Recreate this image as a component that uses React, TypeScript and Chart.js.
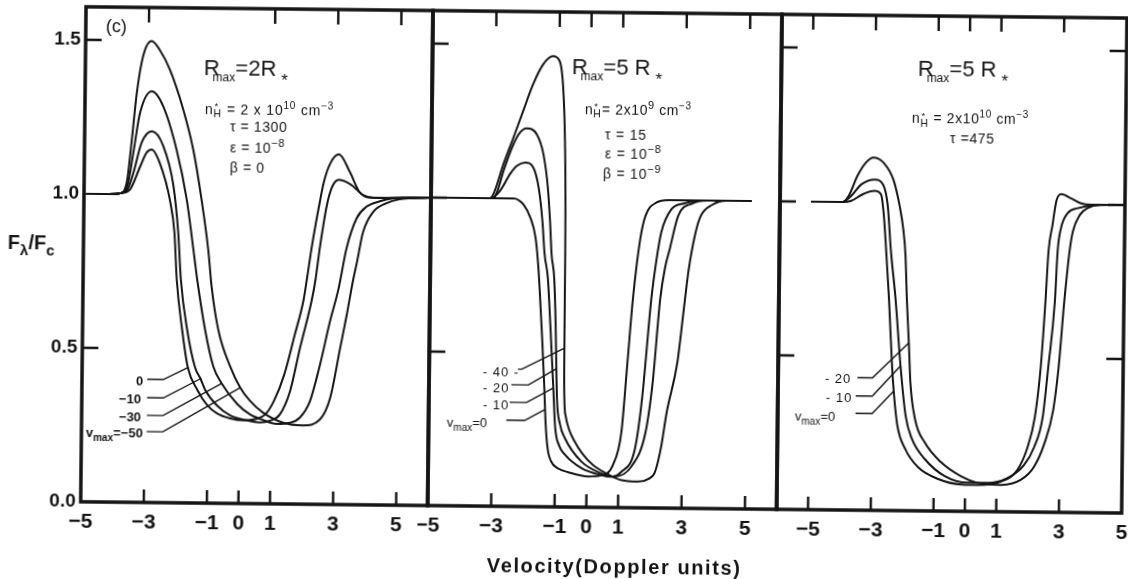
import React, { useEffect, useRef } from "react";
import { Chart, registerables } from "chart.js";

Chart.register(...registerables);

type Pt = [number, number];

// ---------------- data (x = velocity in Doppler units, y = F_lambda / F_c) ----------------
// Panel 1 : Rmax = 2 R*
const P1_VMAX_0: Pt[] = [[-5, 1], [-4.2, 1], [-3.85, 1.003], [-3.54, 1.016], [-3.23, 1.09], [-3.03, 1.136], [-2.87, 1.146], [-2.6, 1.1], [-2.27, 0.98], [-2.12, 0.877], [-2.03, 0.724], [-1.84, 0.56], [-1.65, 0.44], [-1.34, 0.367], [-1.02, 0.318], [-0.71, 0.292], [-0.29, 0.276], [0.13, 0.27], [0.56, 0.276], [0.82, 0.29], [1.09, 0.334], [1.41, 0.42], [1.73, 0.55], [1.99, 0.66], [2.08, 0.72], [2.23, 0.83], [2.44, 0.96], [2.6, 1.047], [2.81, 1.11], [3.07, 1.137], [3.42, 1.08], [3.73, 1.016], [4.05, 0.998], [4.6, 0.997], [6, 1.0]];
const P1_VMAX_M10: Pt[] = [[-5, 1], [-4.2, 1], [-3.85, 1.003], [-3.6, 1.02], [-3.44, 1.07], [-3.19, 1.168], [-2.87, 1.205], [-2.5, 1.157], [-2.17, 1.03], [-2.0, 0.877], [-1.9, 0.724], [-1.68, 0.56], [-1.42, 0.44], [-1.25, 0.405], [-1.09, 0.367], [-0.72, 0.318], [-0.3, 0.286], [0.23, 0.27], [0.65, 0.264], [0.97, 0.27], [1.28, 0.29], [1.6, 0.367], [1.9, 0.507], [2.25, 0.66], [2.36, 0.724], [2.49, 0.83], [2.7, 0.97], [2.86, 1.03], [3.07, 1.054], [3.44, 1.04], [3.86, 1.005], [4.18, 0.997], [6, 1.0]];
const P1_VMAX_M30: Pt[] = [[-5, 1], [-4.2, 1], [-3.85, 1.003], [-3.62, 1.03], [-3.45, 1.135], [-3.25, 1.265], [-2.88, 1.335], [-2.52, 1.287], [-2.08, 1.146], [-1.74, 0.984], [-1.51, 0.82], [-1.38, 0.724], [-1.11, 0.56], [-0.84, 0.443], [-0.57, 0.389], [-0.08, 0.324], [0.33, 0.29], [0.75, 0.272], [1.18, 0.26], [1.6, 0.264], [1.91, 0.28], [2.23, 0.334], [2.54, 0.454], [2.84, 0.594], [3.1, 0.7], [3.34, 0.832], [3.65, 0.93], [3.96, 0.968], [4.38, 0.986], [4.8, 0.996], [6, 1.0]];
const P1_VMAX_M50: Pt[] = [[-5, 1], [-4.2, 1], [-3.85, 1.003], [-3.65, 1.038], [-3.5, 1.18], [-3.36, 1.33], [-3.17, 1.45], [-2.91, 1.498], [-2.65, 1.47], [-2.32, 1.406], [-1.88, 1.276], [-1.55, 1.146], [-1.27, 0.984], [-1.04, 0.82], [-0.92, 0.7], [-0.69, 0.56], [-0.3, 0.443], [0.02, 0.376], [0.33, 0.334], [0.75, 0.296], [1.39, 0.264], [2.02, 0.256], [2.55, 0.275], [2.87, 0.345], [3.17, 0.507], [3.37, 0.616], [3.55, 0.724], [3.68, 0.79], [3.86, 0.886], [4.17, 0.951], [4.59, 0.98], [5.0, 0.993], [6, 1.0]];

// Panel 2 : Rmax = 5 R*, tau = 15
const P2_VMAX_0: Pt[] = [[-5, 1], [-2.4, 1.0], [-2.08, 0.98], [-1.86, 0.938], [-1.69, 0.873], [-1.6, 0.787], [-1.54, 0.7], [-1.45, 0.55], [-1.37, 0.4], [-1.31, 0.27], [-1.24, 0.19], [-1.12, 0.147], [-0.9, 0.125], [-0.58, 0.113], [0.05, 0.1], [0.5, 0.105], [0.82, 0.137], [1.08, 0.245], [1.24, 0.46], [1.4, 0.68], [1.61, 0.873], [1.77, 0.949], [2.08, 0.99], [2.5, 1.0], [5.1, 1.0]];
const P2_VMAX_M10: Pt[] = [[-5, 1], [-3.1, 1.0], [-2.82, 1.025], [-2.51, 1.08], [-2.3, 1.106], [-2.04, 1.117], [-1.78, 1.1], [-1.61, 1.036], [-1.48, 0.928], [-1.4, 0.82], [-1.29, 0.744], [-1.2, 0.6], [-1.08, 0.386], [-1.01, 0.26], [-0.88, 0.2], [-0.69, 0.17], [-0.17, 0.127], [0.46, 0.105], [0.78, 0.1], [1.09, 0.116], [1.51, 0.19], [1.72, 0.354], [1.98, 0.68], [2.12, 0.8], [2.27, 0.895], [2.58, 0.97], [3.0, 0.99], [3.5, 1.0], [5.1, 1.0]];
const P2_VMAX_M20: Pt[] = [[-5, 1], [-3.05, 1.0], [-2.92, 1.02], [-2.72, 1.09], [-2.42, 1.176], [-2.22, 1.214], [-2.01, 1.228], [-1.69, 1.209], [-1.47, 1.144], [-1.32, 1.036], [-1.24, 0.928], [-1.18, 0.82], [-1.09, 0.744], [-1.03, 0.6], [-0.99, 0.449], [-0.96, 0.35], [-0.86, 0.27], [-0.7, 0.224], [-0.17, 0.148], [0.47, 0.11], [0.84, 0.1], [1.43, 0.137], [1.84, 0.245], [2.05, 0.408], [2.26, 0.68], [2.4, 0.78], [2.54, 0.84], [2.8, 0.95], [3.24, 0.99], [3.7, 1.0], [5.1, 1.0]];
const P2_VMAX_M40: Pt[] = [[-5, 1], [-3.15, 1.0], [-3.03, 1.014], [-2.73, 1.11], [-2.42, 1.198], [-2.12, 1.285], [-1.82, 1.371], [-1.51, 1.436], [-1.2, 1.463], [-0.99, 1.447], [-0.87, 1.36], [-0.8, 1.2], [-0.76, 0.98], [-0.75, 0.82], [-0.745, 0.52], [-0.73, 0.36], [-0.68, 0.295], [-0.58, 0.255], [-0.4, 0.215], [-0.15, 0.175], [0.2, 0.137], [0.63, 0.11], [1.1, 0.089], [1.62, 0.085], [1.94, 0.094], [2.15, 0.116], [2.34, 0.2], [2.5, 0.31], [2.82, 0.473], [3.0, 0.64], [3.14, 0.77], [3.35, 0.895], [3.51, 0.95], [3.88, 0.987], [4.3, 1.0], [5.1, 1.0]];

// Panel 3 : Rmax = 5 R*, tau = 475
const P3_VMAX_0: Pt[] = [[-5, 1.0], [-4.0, 1.0], [-3.73, 1.004], [-3.36, 1.026], [-2.98, 1.037], [-2.78, 1.026], [-2.68, 0.955], [-2.6, 0.848], [-2.49, 0.686], [-2.37, 0.47], [-2.3, 0.379], [-2.18, 0.276], [-1.92, 0.2], [-1.5, 0.141], [-0.86, 0.104], [-0.12, 0.087], [0.4, 0.086], [1.14, 0.098], [1.66, 0.136], [1.98, 0.211], [2.2, 0.308], [2.37, 0.47], [2.5, 0.686], [2.58, 0.848], [2.7, 0.934], [2.81, 1.01], [2.97, 1.033], [3.28, 1.02], [3.6, 1.004], [3.92, 1.0], [5, 1.0]];
const P3_VMAX_M10: Pt[] = [[-5, 1], [-4.0, 1.0], [-3.73, 1.02], [-3.41, 1.058], [-2.98, 1.074], [-2.72, 1.058], [-2.56, 0.988], [-2.45, 0.848], [-2.28, 0.686], [-2.1, 0.47], [-1.92, 0.308], [-1.71, 0.233], [-1.29, 0.168], [-0.66, 0.114], [0.08, 0.093], [0.71, 0.093], [1.34, 0.109], [1.87, 0.152], [2.19, 0.211], [2.45, 0.308], [2.61, 0.47], [2.8, 0.686], [2.87, 0.848], [2.97, 0.923], [3.18, 0.972], [3.5, 0.988], [3.93, 0.997], [5, 1.0]];
const P3_VMAX_M20: Pt[] = [[-5, 1], [-4.0, 1.0], [-3.81, 1.02], [-3.54, 1.085], [-3.28, 1.128], [-3.03, 1.145], [-2.7, 1.128], [-2.39, 1.074], [-2.18, 0.988], [-2.06, 0.915], [-1.98, 0.83], [-1.92, 0.686], [-1.84, 0.54], [-1.78, 0.417], [-1.62, 0.298], [-1.3, 0.222], [-0.77, 0.158], [-0.14, 0.114], [0.39, 0.093], [1.14, 0.087], [1.77, 0.104], [2.19, 0.147], [2.51, 0.222], [2.78, 0.33], [2.94, 0.47], [3.1, 0.686], [3.25, 0.848], [3.35, 0.913], [3.57, 0.967], [3.83, 0.99], [4.2, 1.0], [5, 1.0]];

// leader lines from the v_max labels to the curves
const P1_LEAD_0: Pt[] = [[-2.93, 0.4], [-2.42, 0.4], [-1.63, 0.44]];
const P1_LEAD_M10: Pt[] = [[-2.93, 0.34], [-2.42, 0.34], [-1.22, 0.405]];
const P1_LEAD_M30: Pt[] = [[-2.93, 0.283], [-2.42, 0.283], [-0.57, 0.389]];
const P1_LEAD_M50: Pt[] = [[-2.93, 0.23], [-2.42, 0.23], [0.02, 0.376]];
const P2_LEAD_M40: Pt[] = [[-2.2, 0.446], [-2.08, 0.446], [-0.74, 0.516]];
const P2_LEAD_M20: Pt[] = [[-2.4, 0.395], [-1.87, 0.395], [-0.98, 0.449]];
const P2_LEAD_M10: Pt[] = [[-2.45, 0.338], [-1.92, 0.338], [-1.08, 0.386]];
const P2_LEAD_0: Pt[] = [[-2.55, 0.28], [-1.97, 0.28], [-1.33, 0.316]];
const P3_LEAD_M20: Pt[] = [[-3.47, 0.43], [-2.99, 0.43], [-1.83, 0.546]];
const P3_LEAD_M10: Pt[] = [[-3.52, 0.371], [-2.99, 0.371], [-2.1, 0.47]];
const P3_LEAD_0: Pt[] = [[-3.52, 0.314], [-2.99, 0.314], [-2.3, 0.389]];

// ticks
const X_TICK_LABELS = [-5, -3, -1, 0, 1, 3, 5];
const Y_TICK_LABELS = [0, 0.5, 1.0, 1.5];
const P1_TOP_TICKS = [-3, 1, 3, 5];
const P1_BOTTOM_TICKS = [-3, -1, 0, 1, 3, 5];
const P2_TOP_TICKS = [-3, -1, 0, 1, 3, 5];
const P2_BOTTOM_TICKS = [-3, -1, 0, 1, 3, 5];
const P3_TOP_TICKS = [-5, -3, -1, 0, 1, 3];
const P3_BOTTOM_TICKS = [-5, -3, -1, 0, 1, 3];
const SIDE_TICKS = [0.5, 1.0, 1.5];
const P1_LEFT_TICKS = [0.5, 1.5];

const Y_MIN = 0;
const Y_MAX = 1.607;

const FONT = '"Liberation Sans", Arial, Helvetica, sans-serif';
const INK = "#141414";

// the scanned original is turned slightly clockwise
const TILT_DEG = 0.62;
const TILT_S = Math.sin((TILT_DEG * Math.PI) / 180);
const CX = 564;
const CY = 290;

// ---------------- chart plumbing ----------------
const framePlugin = {
  id: "frame",
  afterDatasetsDraw(chart: any, _args: any, opts: any) {
    const { ctx, chartArea: a, scales } = chart;
    const sx = scales.x;
    const sy = scales.y;
    ctx.save();
    ctx.strokeStyle = INK;
    ctx.lineWidth = 3.5;
    ctx.strokeRect(a.left, a.top, a.right - a.left, a.bottom - a.top);
    ctx.lineWidth = 2.4;
    ctx.beginPath();
    (opts.bottom || []).forEach((v: number) => {
      const x = sx.getPixelForValue(v);
      ctx.moveTo(x, a.bottom);
      ctx.lineTo(x, a.bottom - 13);
    });
    (opts.top || []).forEach((v: number) => {
      const x = sx.getPixelForValue(v);
      ctx.moveTo(x, a.top);
      ctx.lineTo(x, a.top + 15);
    });
    (opts.left || []).forEach((v: number) => {
      const y = sy.getPixelForValue(v);
      ctx.moveTo(a.left, y);
      ctx.lineTo(a.left + 16, y);
    });
    (opts.right || []).forEach((v: number) => {
      const y = sy.getPixelForValue(v);
      ctx.moveTo(a.right, y);
      ctx.lineTo(a.right - 17, y);
    });
    ctx.stroke();
    ctx.restore();
  },
};

interface PanelSpec {
  canvasLeft: number;
  canvasWidth: number;
  padLeft: number;
  padRight: number;
  xMin: number;
  xMax: number;
  showY: boolean;
  series: Pt[][];
  leaders: Pt[][];
  top: number[];
  bottom: number[];
  left: number[];
  right: number[];
}

const PANELS: PanelSpec[] = [
  {
    canvasLeft: 0, canvasWidth: 440, padLeft: 0, padRight: 10, xMin: -5, xMax: 6, showY: true,
    series: [P1_VMAX_0, P1_VMAX_M10, P1_VMAX_M30, P1_VMAX_M50],
    leaders: [P1_LEAD_0, P1_LEAD_M10, P1_LEAD_M30, P1_LEAD_M50],
    top: P1_TOP_TICKS, bottom: P1_BOTTOM_TICKS, left: P1_LEFT_TICKS, right: [],
  },
  {
    canvasLeft: 420, canvasWidth: 369, padLeft: 10, padRight: 10, xMin: -5, xMax: 6, showY: false,
    series: [P2_VMAX_0, P2_VMAX_M10, P2_VMAX_M20, P2_VMAX_M40],
    leaders: [P2_LEAD_M40, P2_LEAD_M20, P2_LEAD_M10, P2_LEAD_0],
    top: P2_TOP_TICKS, bottom: P2_BOTTOM_TICKS, left: SIDE_TICKS, right: [],
  },
  {
    canvasLeft: 769, canvasWidth: 362, padLeft: 10, padRight: 7, xMin: -6, xMax: 5, showY: false,
    series: [P3_VMAX_0, P3_VMAX_M10, P3_VMAX_M20],
    leaders: [P3_LEAD_M20, P3_LEAD_M10, P3_LEAD_0],
    top: P3_TOP_TICKS, bottom: P3_BOTTOM_TICKS, left: SIDE_TICKS, right: SIDE_TICKS,
  },
];

const fmtX = (v: number) => (v < 0 ? "\u2212" + Math.abs(v) : String(v));

function Panel({ spec }: { spec: PanelSpec }) {
  const ref = useRef<HTMLCanvasElement>(null);
  useEffect(() => {
    const datasets: any[] = [
      ...spec.series.map((s) => ({
        data: s.map(([x, y]) => ({ x, y })),
        borderColor: INK,
        borderWidth: 2,
        pointRadius: 0,
        fill: false,
        cubicInterpolationMode: "monotone",
      })),
      ...spec.leaders.map((s) => ({
        data: s.map(([x, y]) => ({ x, y })),
        borderColor: INK,
        borderWidth: 1.4,
        pointRadius: 0,
        fill: false,
        tension: 0,
      })),
    ];
    const chart = new Chart(ref.current as HTMLCanvasElement, {
      type: "line",
      data: { datasets },
      options: {
        animation: false,
        responsive: false,
        maintainAspectRatio: false,
        events: [],
        layout: { padding: { left: spec.padLeft, right: spec.padRight, top: 12, bottom: 0 } },
        plugins: {
          legend: { display: false },
          tooltip: { enabled: false },
          frame: { top: spec.top, bottom: spec.bottom, left: spec.left, right: spec.right },
        } as any,
        scales: {
          x: {
            type: "linear",
            min: spec.xMin,
            max: spec.xMax,
            afterBuildTicks: (s: any) => {
              s.ticks = X_TICK_LABELS.map((v) => ({ value: v }));
            },
            afterFit: (s: any) => {
              s.height = 72;
              s.paddingLeft = 0;
              s.paddingRight = 0;
            },
            ticks: {
              autoSkip: false,
              maxRotation: 0,
              padding: 8,
              color: INK,
              font: { family: FONT, size: 21, weight: "bold" },
              callback: (v: any) => fmtX(Number(v)),
            },
            grid: { display: false, drawTicks: false },
            border: { display: false },
          },
          y: {
            type: "linear",
            min: Y_MIN,
            max: Y_MAX,
            display: spec.showY,
            afterBuildTicks: (s: any) => {
              s.ticks = Y_TICK_LABELS.map((v) => ({ value: v }));
            },
            afterFit: (s: any) => {
              s.width = spec.showY ? 83 : 0;
              s.paddingTop = 0;
              s.paddingBottom = 0;
            },
            ticks: {
              padding: 5,
              color: INK,
              font: { family: FONT, size: 19, weight: "bold" },
              callback: (v: any) => Number(v).toFixed(1),
            },
            grid: { display: false, drawTicks: false },
            border: { display: false },
          },
        },
      } as any,
      plugins: [framePlugin as any],
    });
    return () => chart.destroy();
  }, [spec]);
  return (
    <canvas
      ref={ref}
      width={spec.canvasWidth}
      height={579}
      style={{ position: "absolute", left: spec.canvasLeft, top: 0, width: spec.canvasWidth, height: 579 }}
    />
  );
}

// ---------------- text helpers (x, y given as they appear in the tilted original) ----------------
function T({ x, y, size, weight, ls, children }: any) {
  const ux = x + (y - CY) * TILT_S;
  const uy = y - (x - CX) * TILT_S;
  return (
    <div
      style={{
        position: "absolute",
        left: ux,
        top: uy,
        fontSize: size,
        lineHeight: 1,
        fontFamily: FONT,
        fontWeight: weight || "normal",
        letterSpacing: ls || 0,
        whiteSpace: "nowrap",
        color: INK,
      }}
    >
      {children}
    </div>
  );
}

function Shift({ size, dy, ml, children }: any) {
  return <span style={{ fontSize: size, position: "relative", top: dy, marginLeft: ml || 0 }}>{children}</span>;
}

function NH({ size }: { size: number }) {
  return (
    <span>
      n
      <span style={{ display: "inline-block", position: "relative", width: size * 0.62, height: "1em" }}>
        <span style={{ position: "absolute", left: 1, top: size * 0.1, fontSize: size * 0.7 }}>*</span>
        <span style={{ position: "absolute", left: 0, top: size * 0.6, fontSize: size * 0.75 }}>H</span>
      </span>
    </span>
  );
}

function RLine({ x, y, value }: { x: number; y: number; value: string }) {
  return (
    <T x={x} y={y} size={22}>
      R<Shift size={12} dy={6} ml={-7}>max</Shift>={value}R<Shift size={17} dy={10} ml={5}>*</Shift>
    </T>
  );
}

export default function App() {
  return (
    <div style={{ position: "absolute", left: 0, top: 0, width: 1128, height: 579, background: "#fff", overflow: "hidden" }}>
      <div
        style={{
          position: "absolute",
          left: 0,
          top: 0,
          width: 1128,
          height: 579,
          transform: `rotate(${TILT_DEG}deg)`,
          transformOrigin: `${CX}px ${CY}px`,
        }}
      >
        {PANELS.map((p, i) => (
          <Panel key={i} spec={p} />
        ))}

        {/* panel 1 annotations */}
        <T x={106} y={17} size={18}>(c)</T>
        <RLine x={204} y={57} value="2" />
        <T x={205} y={100} size={14} ls={0.8}>
          <NH size={14} /> = 2 x 10<Shift size={10} dy={-6}>10</Shift> cm<Shift size={10} dy={-6}>−3</Shift>
        </T>
        <T x={230} y={119} size={14} ls={0.6}>τ = 1300</T>
        <T x={230} y={140} size={14} ls={0.6}>
          ε = 10<Shift size={11} dy={-6}>−8</Shift>
        </T>
        <T x={230} y={160} size={14} ls={0.6}>β = 0</T>

        {/* panel 2 annotations */}
        <RLine x={572} y={56} value="5 " />
        <T x={585} y={100} size={14} ls={0.6}>
          <NH size={14} />= 2x10<Shift size={11} dy={-6}>9</Shift> cm<Shift size={10} dy={-6}>−3</Shift>
        </T>
        <T x={605} y={127} size={14} ls={0.8}>τ = 15</T>
        <T x={605} y={146} size={14} ls={0.8}>
          ε = 10<Shift size={11} dy={-6}>−8</Shift>
        </T>
        <T x={603} y={166} size={14} ls={0.8}>
          β = 10<Shift size={11} dy={-6}>−9</Shift>
        </T>

        {/* panel 3 annotations */}
        <RLine x={918} y={58} value="5 " />
        <T x={912} y={109} size={14} ls={0.6}>
          <NH size={14} /> = 2x10<Shift size={10} dy={-6}>10</Shift> cm<Shift size={10} dy={-6}>−3</Shift>
        </T>
        <T x={950} y={131} size={14} ls={0.6}>τ =475</T>

        {/* v_max labels */}
        <T x={136} y={374} size={13} weight="bold">0</T>
        <T x={119} y={392} size={13} weight="bold">−10</T>
        <T x={119} y={410} size={13} weight="bold">−30</T>
        <T x={86} y={426} size={13} weight="bold">
          v<Shift size={10} dy={4}>max</Shift>=−50
        </T>

        <T x={483} y={365} size={13} ls={1}>- 40 -</T>
        <T x={483} y={381} size={13} ls={1}>- 20</T>
        <T x={483} y={398} size={13} ls={1}>- 10</T>
        <T x={447} y={416} size={13}>
          v<Shift size={10} dy={4}>max</Shift>=0
        </T>

        <T x={825} y={372} size={13} ls={1}>- 20</T>
        <T x={826} y={391} size={13} ls={1}>- 10</T>
        <T x={795} y={409} size={13}>
          v<Shift size={10} dy={4}>max</Shift>=0
        </T>

        {/* axis titles */}
        <T x={8} y={232} size={20} weight="bold">
          F<Shift size={15} dy={6}>λ</Shift>/F<Shift size={15} dy={6}>c</Shift>
        </T>
        <T x={487} y={555} size={20} weight="bold" ls={1.6}>Velocity(Doppler units)</T>
      </div>
    </div>
  );
}
